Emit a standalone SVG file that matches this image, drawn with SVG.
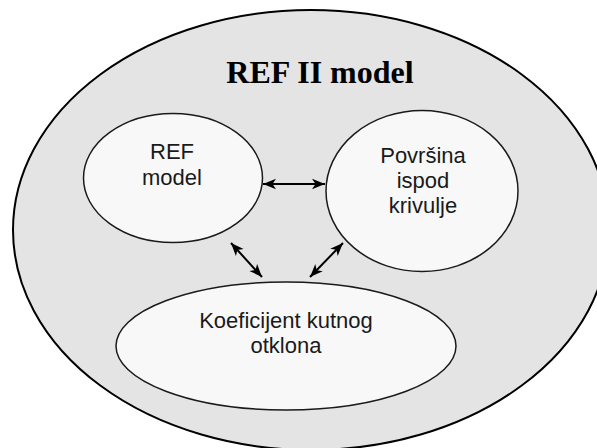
<svg xmlns="http://www.w3.org/2000/svg" width="597" height="448" viewBox="0 0 597 448">
<style>
.outer{fill:#e4e4e4;stroke:#000;stroke-width:2}
.node{fill:#f8f8f8;stroke:#1a1a1a;stroke-width:1.5}
.lbl{font-family:"Liberation Sans",Arial,sans-serif;font-size:22px;fill:#1a1a1a;text-anchor:middle}
.title{font-family:"Liberation Serif","Times New Roman",serif;font-size:32px;font-weight:bold;fill:#000;text-anchor:middle}
.conn{stroke:#000;stroke-width:2;fill:none;marker-start:url(#ah);marker-end:url(#ah)}
</style>
<defs>
<marker id="ah" markerUnits="userSpaceOnUse" markerWidth="14" markerHeight="12" refX="13" refY="6" orient="auto-start-reverse">
<path d="M0,0.8 L13,6 L0,11.2 L3.5,6 Z" fill="#000"/>
</marker>
</defs>
<rect width="597" height="448" fill="#fff"/>
<g id="ref2">
<ellipse class="outer" cx="311" cy="230" rx="298" ry="220"/>
<text class="title" x="320" y="83">REF II model</text>
</g>
<g id="refmodel">
<ellipse class="node" cx="173" cy="178" rx="89.5" ry="64.5"/>
<text class="lbl" x="172" y="159">REF</text>
<text class="lbl" x="172" y="185">model</text>
</g>
<g id="povrsina">
<ellipse class="node" cx="422" cy="191" rx="96" ry="80.5"/>
<text class="lbl" x="423" y="163">Površina</text>
<text class="lbl" x="423" y="188">ispod</text>
<text class="lbl" x="423" y="213">krivulje</text>
</g>
<g id="koeficijent">
<ellipse class="node" cx="286" cy="346" rx="170" ry="64"/>
<text class="lbl" x="286" y="328">Koeficijent kutnog</text>
<text class="lbl" x="286" y="353">otklona</text>
</g>
<g id="connectors">
<line class="conn" x1="263" y1="184" x2="325" y2="184"/>
<line class="conn" x1="231" y1="243" x2="262" y2="277"/>
<line class="conn" x1="343" y1="243" x2="310" y2="277"/>
</g>
</svg>
